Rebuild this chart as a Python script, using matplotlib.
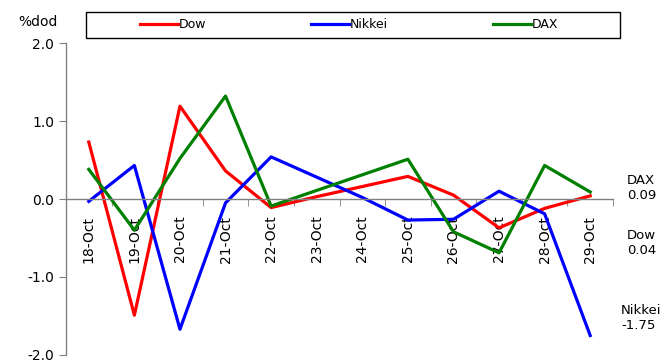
import matplotlib.pyplot as plt
from matplotlib.ticker import FixedLocator
from matplotlib.patches import Rectangle

dates = ["18-Oct", "19-Oct", "20-Oct", "21-Oct", "22-Oct", "23-Oct",
         "24-Oct", "25-Oct", "26-Oct", "27-Oct", "28-Oct", "29-Oct"]
dow = [0.73, -1.49, 1.19, 0.36, -0.11, 0.03, 0.16, 0.29, 0.05, -0.37, -0.12, 0.04]
nikkei = [-0.03, 0.43, -1.67, -0.05, 0.54, 0.28, 0.02, -0.27, -0.26, 0.10, -0.19, -1.75]
dax = [0.38, -0.40, 0.52, 1.32, -0.09, 0.11, 0.31, 0.51, -0.42, -0.69, 0.43, 0.09]
yticks = [-2.0, -1.0, 0.0, 1.0, 2.0]

plt.rcParams['font.family'] = ['DejaVu Sans']
plt.rcParams['font.size'] = 8.5

fig = plt.figure(figsize=(6.61, 3.61), dpi=100)
ax = fig.add_axes([66 / 661, 6 / 361, (613 - 66) / 661, (355 - 43) / 361])

x = list(range(len(dates)))
l1, = ax.plot(x, dow, color='#ff0000', lw=2.3, label="Dow")
l2, = ax.plot(x, nikkei, color='#0000ff', lw=2.3, label="Nikkei")
l3, = ax.plot(x, dax, color='#008000', lw=2.3, label="DAX")

ax.set_xlim(-0.5, len(dates) - 0.5)
ax.set_ylim(-2.0, 2.0)
ax.set_yticks(yticks)
ax.set_yticklabels([f"{v:.1f}" for v in yticks], fontsize=10)

ax.spines['top'].set_visible(False)
ax.spines['right'].set_visible(False)
ax.spines['bottom'].set_position(('data', 0))
for s in ['left', 'bottom']:
    ax.spines[s].set_color('#808080')
    ax.spines[s].set_linewidth(1)
ax.tick_params(axis='y', colors='#808080', labelcolor='black', length=5, direction='out')

ax.set_xticks(x)
ax.set_xticklabels(dates, rotation=90, fontsize=10, va='top')
ax.tick_params(axis='x', which='major', length=0, pad=12)
ax.xaxis.set_minor_locator(FixedLocator([i - 0.5 for i in range(1, len(dates) + 1)]))
ax.tick_params(axis='x', which='minor', length=5, color='#808080', direction='out')

fig.text(18 / 661, 1 - 22 / 361, "%dod", fontsize=10, va='center')

# legend frame spans the top, entries sit inside it
fig.patches.append(Rectangle((86 / 661, 1 - 38 / 361), (620 - 86) / 661, 26 / 361,
                             transform=fig.transFigure, fill=False,
                             edgecolor='black', linewidth=1))
leg = fig.legend(handles=[l1, l2, l3], loc='center left', ncol=3,
                 bbox_to_anchor=(140 / 661, 1 - 25 / 361),
                 frameon=False, fontsize=9, borderpad=0, borderaxespad=0,
                 handlelength=3.0, handletextpad=0.1, columnspacing=8.4)

ax.annotate(f"DAX\n{dax[-1]:.2f}", xy=(1, 0), xycoords='axes fraction',
            xytext=(627 / 661, 1 - 188 / 361), textcoords='figure fraction',
            fontsize=9.5, va='center', ha='left')
ax.annotate(f"Dow\n{dow[-1]:.2f}", xy=(1, 0), xycoords='axes fraction',
            xytext=(627 / 661, 1 - 243 / 361), textcoords='figure fraction',
            fontsize=9.5, va='center', ha='left')
ax.annotate(f"Nikkei\n{nikkei[-1]:.2f}", xy=(1, 0), xycoords='axes fraction',
            xytext=(621 / 661, 1 - 318 / 361), textcoords='figure fraction',
            fontsize=9.5, va='center', ha='left')

fig.savefig("out.png", dpi=100)
